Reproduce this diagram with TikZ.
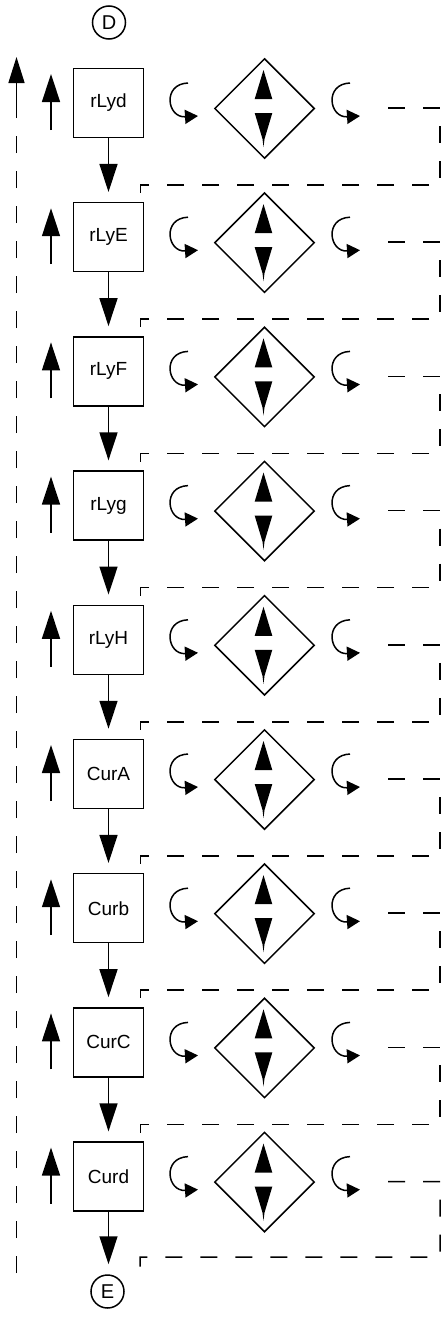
\documentclass[tikz,border=0pt]{standalone}
\usepackage{fontspec}
\setmainfont{Liberation Sans}
\usetikzlibrary{arrows.meta,shapes.geometric,calc}
\begin{document}
\begin{tikzpicture}[x=1pt,y=-1pt, line width=1.5pt,
  box/.style={draw, minimum width=70pt, minimum height=69pt, inner sep=0pt, font=\fontsize{19}{22}\selectfont},
  term/.style={draw, circle, minimum size=33pt, inner sep=0pt, font=\fontsize{20}{24}\selectfont},
  dia/.style={draw, diamond, minimum width=100pt, minimum height=100pt, inner sep=0pt},
  arr/.style={-{Triangle[length=28pt,width=18pt]}},
  carr/.style={-{Triangle[length=13pt,width=14pt]}},
  dsh/.style={dash pattern=on 17pt off 18pt},
  tri/.style={fill=black, draw=none}]
\useasboundingbox (0,0) rectangle (441,1317);
\node[term] (D) at (109,22.5) {D};
\node[term] (E) at (107.5,1291.5) {E};
\coordinate (tail) at (140,1273);
\foreach \n [count=\i from 0] in {rLyd,rLyE,rLyF,rLyg,rLyH,CurA,Curb,CurC,Curd} {
  \pgfmathsetmacro\yy{103+134.2*\i}
  \node[box] (b\i) at (108.5,\yy) {\n};
  \node[dia] (d\i) at (264.5,\yy+5.5) {};
  \coordinate (c\i) at (388,\yy+5);
  \draw[arr] (51,\yy+27) -- (51,\yy-29);
  \draw[carr] (188,\yy-20) .. controls (162,\yy-19) and (167,\yy+15) .. (198,\yy+13);
  \draw[carr] (350,\yy-20) .. controls (324,\yy-19) and (329,\yy+15) .. (360,\yy+13);
  \fill (263.5,\yy-33) -- (272.3,\yy-4) -- (254.7,\yy-4) -- cycle;
  \fill (254.7,\yy+10) -- (272.3,\yy+10) -- (264.5,\yy+36) -- (263.5,\yy+44) -- (262.5,\yy+36) -- cycle;
}
\foreach \i [evaluate=\i as \j using int(\i+1)] in {0,...,7} {
  \pgfmathsetmacro\yy{103+134.2*\i}
  \draw[arr, shorten >=10pt] (b\i.south) -- (b\j.north);
  \draw[dsh] (c\i) -- (440,\yy+5) -- (440,\yy+82) -| ([xshift=-4pt]b\j.north east);
}
\draw[arr, shorten >=10pt] (b8.south) -- (b8.south |- E.north);
\draw[dsh] (c8) -- (440,1181.6) -- (440,1257) -| (tail);
\draw[dsh] (16.5,1273) -- (16.5,100);
\draw[-{Triangle[length=26pt,width=16pt]}] (16.5,102) -- (16.5,57);
\end{tikzpicture}
\end{document}
